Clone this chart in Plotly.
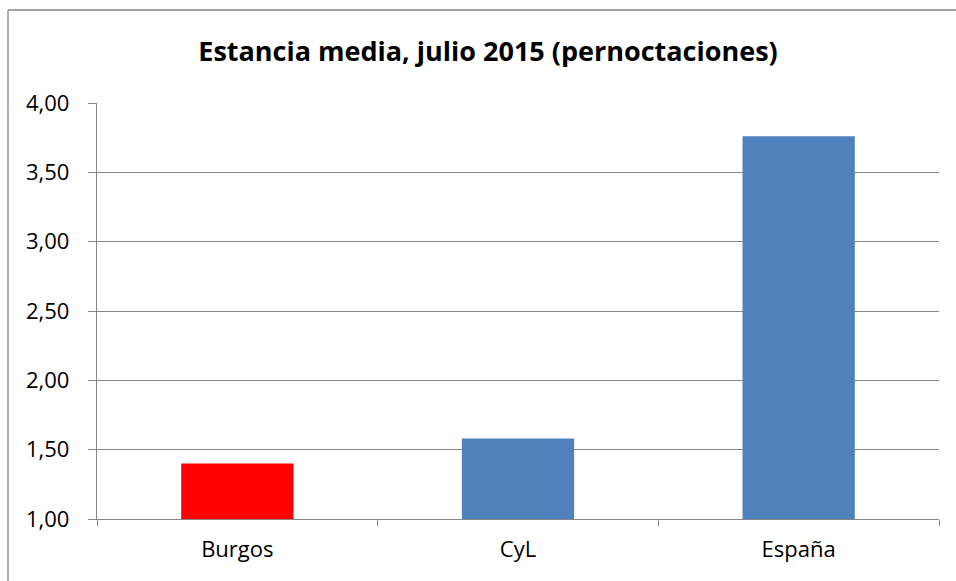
import plotly.graph_objects as go

categories = ["Burgos", "CyL", "España"]
values = [1.40, 1.58, 3.76]
colors = ["#FF0000", "#4F81BD", "#4F81BD"]
title = "Estancia media, julio 2015 (pernoctaciones)"

W, H = 956, 581
fig = go.Figure(go.Bar(x=categories, y=values, marker=dict(color=colors, line=dict(width=0)),
                       width=0.4))

font_family = "Open Sans, Lato, sans-serif"
PW, PH = 842, 416
fig.update_layout(
    width=W, height=H,
    margin=dict(l=97, r=17, t=103, b=62),
    paper_bgcolor="white", plot_bgcolor="white",
    separators=",.",
    showlegend=False,
    title=dict(text="<b>" + title + "</b>", x=488 / W, xanchor="center",
               y=1 - 52 / H, yanchor="middle",
               font=dict(family=font_family, size=27, color="black")),
    font=dict(family=font_family, size=22, color="black"),
)
fig.update_yaxes(range=[1, 4], dtick=0.5, tick0=1, tickformat=".2f",
                 showgrid=True, gridcolor="#868686", gridwidth=1.3,
                 showline=True, linecolor="#868686", linewidth=1.3,
                 ticks="outside", ticklen=8, tickcolor="#868686", tickwidth=1.3,
                 ticklabelstandoff=14, zeroline=False,
                 tickfont=dict(family=font_family, size=22, color="black"))
fig.update_xaxes(showline=True, linecolor="#868686", linewidth=1.3,
                 ticks="outside", tickson="boundaries", ticklen=6,
                 tickcolor="#868686", tickwidth=1.3, showgrid=False,
                 ticklabelstandoff=10,
                 tickfont=dict(family=font_family, size=22, color="black"))
# chart-area border (left and top edges visible; right/bottom lie outside the view)
fig.add_shape(type="line", xref="paper", yref="paper",
              x0=-89 / PW, x1=-89 / PW, y0=-80 / PH, y1=1 + 93 / PH,
              line=dict(color="#868686", width=1.3), layer="below")
fig.add_shape(type="line", xref="paper", yref="paper",
              x0=-89 / PW, x1=1 + 40 / PW, y0=1 + 93 / PH, y1=1 + 93 / PH,
              line=dict(color="#868686", width=1.3), layer="below")
fig.write_html("out.html", config={"displayModeBar": False},
               post_script="document.body.style.margin='0';document.body.style.overflow='hidden';")
